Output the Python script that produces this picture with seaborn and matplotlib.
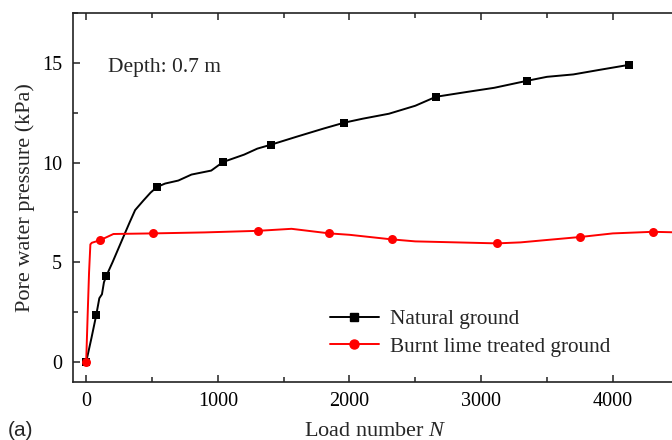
import matplotlib
matplotlib.use("Agg")
import matplotlib.pyplot as plt
import seaborn as sns
import numpy as np
from matplotlib.lines import Line2D

# Natural ground: full trace and marked points
nat_x = [0, 40, 76, 100, 120, 135, 152, 200, 283, 330, 372, 435, 490, 539, 600, 700, 800, 950, 1040,
         1200, 1300, 1405, 1600, 1800, 1959, 2100, 2300, 2500, 2657, 2900, 3100, 3348, 3500, 3700, 3900, 4123]
nat_y = [0, 1.2, 2.34, 3.2, 3.4, 4.0, 4.3, 5.0, 6.28, 7.0, 7.62, 8.1, 8.5, 8.78, 8.95, 9.1, 9.4, 9.6, 10.03,
         10.4, 10.7, 10.9, 11.3, 11.7, 12.0, 12.2, 12.45, 12.85, 13.3, 13.55, 13.75, 14.1, 14.3, 14.42, 14.65, 14.9]
nat_mark_x = [0, 76, 152, 539, 1040, 1405, 1959, 2657, 3348, 4123]
nat_mark_y = [0, 2.34, 4.3, 8.78, 10.03, 10.9, 12.0, 13.3, 14.1, 14.9]

# Burnt lime treated ground
lime_x = [0, 12, 22, 32, 43, 106, 207, 300, 506, 900, 1308, 1560, 1848, 2000, 2321, 2500, 3121,
          3300, 3500, 3753, 4000, 4303, 4500]
lime_y = [0, 2.5, 4.5, 5.9, 5.98, 6.11, 6.42, 6.43, 6.45, 6.5, 6.58, 6.68, 6.45, 6.38, 6.15, 6.05, 5.95,
          6.0, 6.12, 6.27, 6.45, 6.53, 6.5]
lime_mark_x = [0, 106, 506, 1308, 1848, 2321, 3121, 3753, 4303]
lime_mark_y = [0, 6.11, 6.45, 6.58, 6.45, 6.15, 5.95, 6.27, 6.53]

labels = ["Natural ground", "Burnt lime treated ground"]

sns.set_style("ticks")
plt.rcParams['font.family'] = ['Liberation Serif', 'DejaVu Serif']
plt.rcParams['mathtext.fontset'] = 'custom'
plt.rcParams['mathtext.it'] = 'Liberation Serif:italic'
plt.rcParams['mathtext.rm'] = 'Liberation Serif'

fig = plt.figure(figsize=(6.72, 4.4), dpi=100)
ax = fig.add_axes([73/672, 1-382/440, 605.6/672, 369/440])

red = "#FF0000"
sns.lineplot(x=nat_x, y=nat_y, ax=ax, color="black", linewidth=1.4, sort=False, estimator=None)
sns.scatterplot(x=nat_mark_x, y=nat_mark_y, ax=ax, color="black", marker="s", s=36, edgecolor="black", linewidth=0, zorder=3)
sns.lineplot(x=lime_x, y=lime_y, ax=ax, color=red, linewidth=1.4, sort=False, estimator=None)
sns.scatterplot(x=lime_mark_x, y=lime_mark_y, ax=ax, color=red, marker="o", s=42, edgecolor=red, linewidth=0, zorder=3)

ax.set_xlim(-100, 4500)
ax.set_ylim(-1, 17.5)
ax.set_xticks([0, 1000, 2000, 3000, 4000])
ax.set_xticks([500, 1500, 2500, 3500, 4500], minor=True)
ax.set_yticks([0, 5, 10, 15])
ax.set_yticks([2.5, 7.5, 12.5, 17.5], minor=True)
ax.tick_params(which='both', direction='in', top=True, right=True, labelsize=14.5, width=1.1, colors='#222222', labelcolor='black')
ax.tick_params(which='major', length=5)
ax.tick_params(axis='x', which='major', pad=7.5)
ax.tick_params(axis='y', which='major', pad=8)
ax.tick_params(which='minor', length=3.5)
for sp in ax.spines.values():
    sp.set_linewidth(1.2)
    sp.set_color('#222222')

ax.set_xlabel("Load number $\\it{N}$", fontsize=16, labelpad=7.5)
ax.set_ylabel("Pore water pressure (kPa)", fontsize=16, labelpad=5)
ax.text(0.058, 0.852, "Depth: 0.7 m", transform=ax.transAxes, fontsize=15.5, va='center', ha='left')

handles = [Line2D([], [], color='black', marker='s', markersize=6, linewidth=1.4),
           Line2D([], [], color=red, marker='o', markersize=6.5, linewidth=1.4)]
ax.legend(handles, labels, loc='upper left', bbox_to_anchor=(0.41, 0.22), frameon=False, fontsize=15.3,
          handlelength=2.3, handletextpad=0.55, labelspacing=0.35, borderaxespad=0)

fig.text(8/672, 1-430/440, "(a)", fontsize=15, family='Liberation Sans', va='center', ha='left')

fig.savefig("out.png", dpi=100)
